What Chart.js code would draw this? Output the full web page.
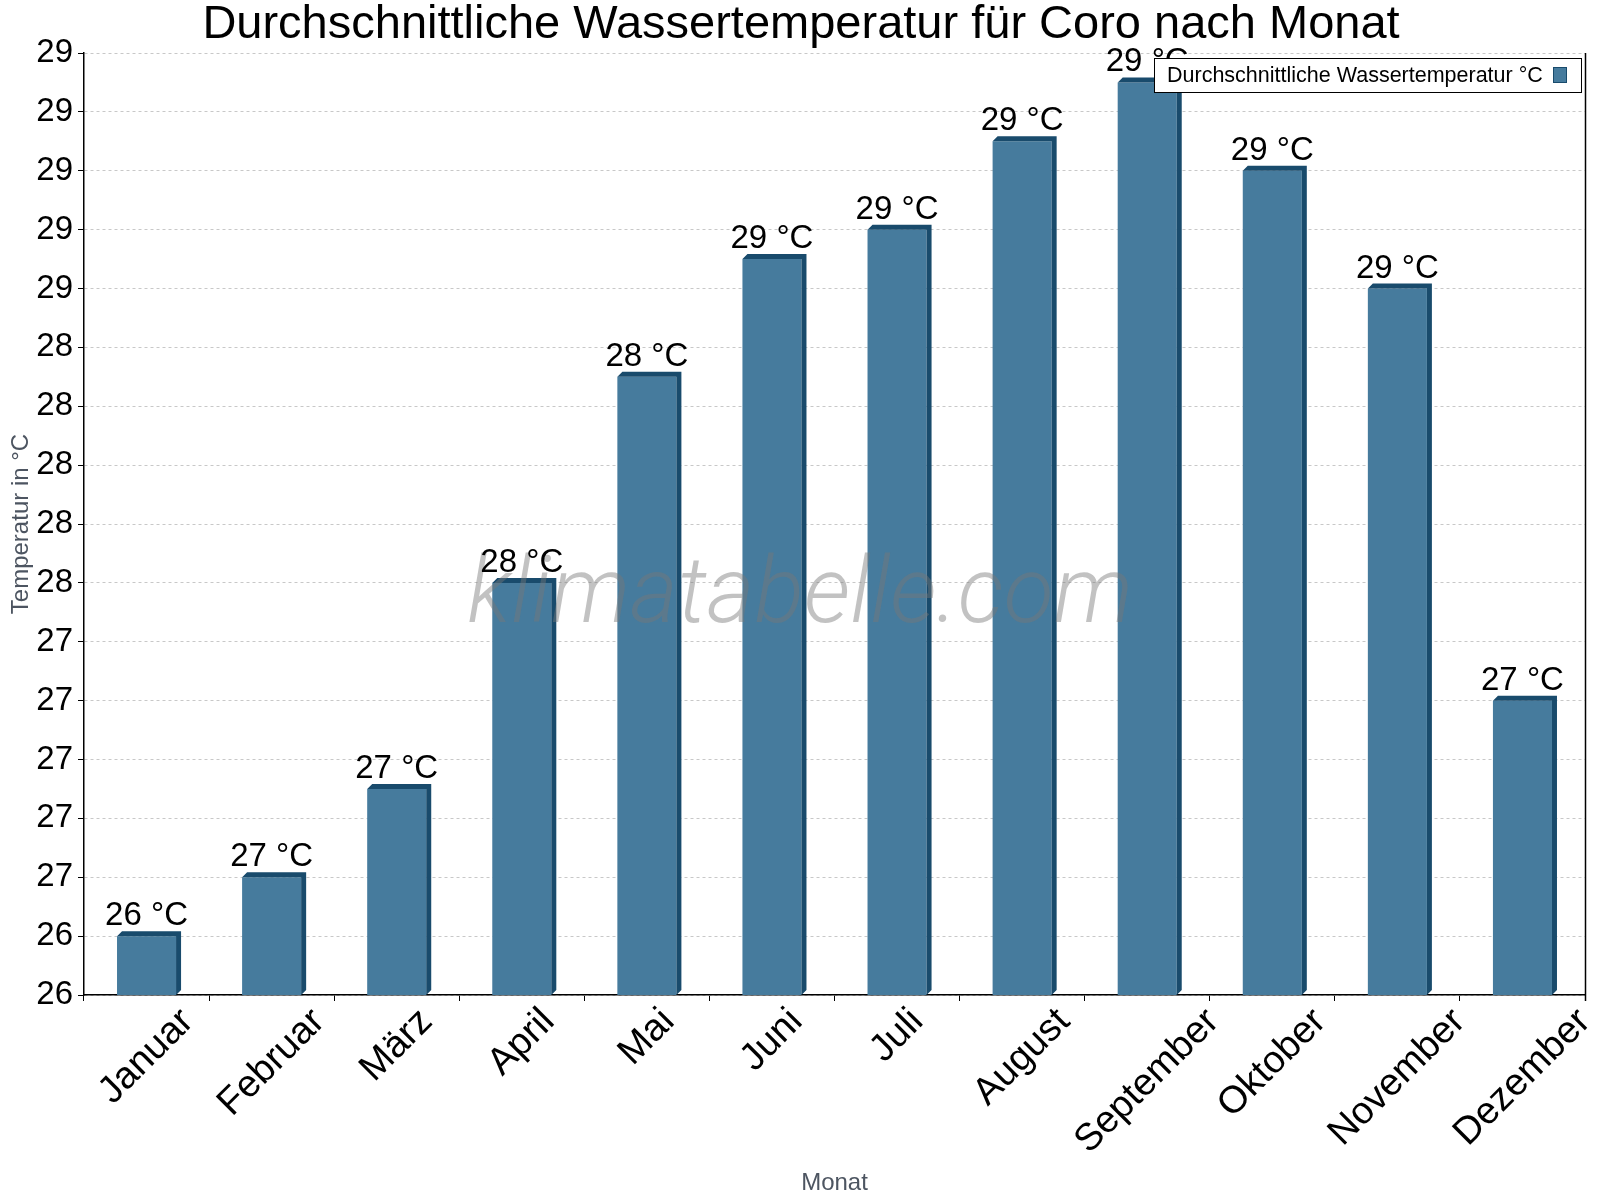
<!DOCTYPE html>
<html>
<head>
<meta charset="utf-8">
<script src="https://cdn.jsdelivr.net/npm/chart.js@4.4.1/dist/chart.umd.min.js"></script>
<style>
  body { margin: 0; background: #fff; }
  #wrap { width: 1600px; height: 1200px; }
</style>
</head>
<body>
<div id="wrap"><canvas id="myChart" width="1600" height="1200"></canvas></div>
<script>
const months = ["Januar", "Februar", "März", "April", "Mai", "Juni", "Juli", "August", "September", "Oktober", "November", "Dezember"];
const waterTemp = [26.4, 26.6, 26.9, 27.6, 28.3, 28.7, 28.8, 29.1, 29.3, 29.0, 28.6, 27.2];
const seriesLabel = "Durchschnittliche Wassertemperatur °C";
const chartTitle = "Durchschnittliche Wassertemperatur für Coro nach Monat";
const yMin = 26.2;
const yMax = 29.4;
const yStep = 0.2;

const FONT = "'Liberation Sans', Arial, sans-serif";
const faceColor = "#467b9d";
const sideColor = "#194b6c";

// fake 3d look: dark top and right side on every bar
const bar3d = {
  id: 'bar3d',
  afterDatasetsDraw(chart) {
    const c = chart.ctx;
    const d = 5;
    const bottom = chart.chartArea.bottom;
    chart.getDatasetMeta(0).data.forEach(bar => {
      const l = bar.x - bar.width / 2;
      const r = bar.x + bar.width / 2;
      const t = bar.y;
      const b = Math.min(bar.base, bottom);
      c.save();
      c.fillStyle = sideColor;
      c.beginPath();
      c.moveTo(l, t);
      c.lineTo(l + d, t - d);
      c.lineTo(r + d, t - d);
      c.lineTo(r + d, b - d);
      c.lineTo(r, b);
      c.lineTo(r, t);
      c.closePath();
      c.fill();
      c.restore();
    });
  }
};

const watermark = {
  id: 'watermark',
  afterDatasetsDraw(chart) {
    const c = chart.ctx;
    c.save();
    c.font = "italic 300 92px Roboto, " + FONT;
    c.fillStyle = "rgba(120,120,120,0.45)";
    c.textAlign = "center";
    c.textBaseline = "alphabetic";
    c.fillText("klimatabelle.com", 800, 622);
    c.restore();
  }
};

const valueLabels = {
  id: 'valueLabels',
  afterDatasetsDraw(chart) {
    const c = chart.ctx;
    c.save();
    c.font = "33px " + FONT;
    c.fillStyle = "#000";
    c.textAlign = "center";
    c.textBaseline = "alphabetic";
    chart.getDatasetMeta(0).data.forEach((bar, i) => {
      c.fillText(Math.round(waterTemp[i]) + " °C", bar.x, bar.y - 11);
    });
    c.restore();
  }
};

// month names: rotated 45deg, centred under the bar, top edge just below the axis
const monthLabels = {
  id: 'monthLabels',
  afterDraw(chart) {
    const c = chart.ctx;
    const xs = chart.scales.x;
    const size = 38;
    c.save();
    c.font = size + "px " + FONT;
    c.fillStyle = "#000";
    c.textAlign = "center";
    c.textBaseline = "middle";
    months.forEach((m, i) => {
      const w = c.measureText(m).width;
      const half = (w + size * 0.72) * Math.SQRT1_2 / 2;
      const x = xs.getPixelForTick(i);
      const y = xs.top + 11 + half;
      c.save();
      c.translate(x, y);
      c.rotate(-Math.PI / 4);
      c.fillText(m, 0, 0);
      c.restore();
    });
    c.restore();
  }
};

const frameAndLegend = {
  id: 'frameAndLegend',
  afterDraw(chart) {
    const c = chart.ctx;
    const a = chart.chartArea;
    c.save();
    // title
    c.font = "47px " + FONT;
    c.fillStyle = "#000";
    c.textAlign = "center";
    c.textBaseline = "alphabetic";
    c.fillText(chartTitle, 801, 38);
    // right border
    c.strokeStyle = "#000";
    c.lineWidth = 1.5;
    c.beginPath();
    c.moveTo(a.right + 0.5, a.top);
    c.lineTo(a.right + 0.5, a.bottom + 6);
    c.stroke();
    // legend box
    c.lineWidth = 1;
    c.fillStyle = "#fff";
    c.fillRect(1154, 58, 427, 34);
    c.strokeRect(1154.5, 58.5, 427, 34);
    c.font = "21.5px " + FONT;
    c.fillStyle = "#000";
    c.textAlign = "left";
    c.textBaseline = "middle";
    c.fillText(seriesLabel, 1167, 76);
    c.fillStyle = faceColor;
    c.fillRect(1553, 67, 14, 16);
    c.strokeStyle = sideColor;
    c.strokeRect(1553.5, 67.5, 13, 15);
    c.restore();
  }
};

const config = {
  type: 'bar',
  data: {
    labels: months,
    datasets: [{
      label: seriesLabel,
      data: waterTemp,
      backgroundColor: faceColor,
      borderWidth: 0,
      categoryPercentage: 1,
      barPercentage: 0.472
    }]
  },
  options: {
    responsive: false,
    animation: false,
    layout: { padding: { left: 0, right: 15, top: 53, bottom: 0 } },
    plugins: {
      legend: { display: false },
      tooltip: { enabled: false },
      title: { display: false }
    },
    scales: {
      x: {
        afterFit(scale) { scale.height = 205; },
        border: { color: "#000", width: 1.5 },
        grid: { drawOnChartArea: false, tickLength: 6, tickColor: "#000", offset: true },
        ticks: { display: false, autoSkip: false },
        title: {
          display: true,
          text: "Monat",
          color: "#4d5561",
          font: { family: FONT, size: 24 },
          padding: { top: 0, bottom: 2 }
        }
      },
      y: {
        min: yMin,
        max: yMax,
        afterFit(scale) { scale.width = 84; },
        border: { color: "#000", width: 1.5, dash: [3, 3] },
        grid: {
          color: "#c8c8c8",
          tickColor: "#000",
          tickBorderDash: [],
          tickLength: 6
        },
        ticks: {
          stepSize: yStep,
          color: "#000",
          font: { family: FONT, size: 33 },
          padding: 5,
          callback: v => Math.round(v)
        },
        title: {
          display: true,
          text: "Temperatur in °C",
          color: "#4d5561",
          font: { family: FONT, size: 24 },
          padding: { top: 7, bottom: 0 }
        }
      }
    }
  },
  plugins: [bar3d, watermark, valueLabels, monthLabels, frameAndLegend]
};

const chart = new Chart(document.querySelector("#myChart").getContext('2d'), config);
</script>
</body>
</html>
